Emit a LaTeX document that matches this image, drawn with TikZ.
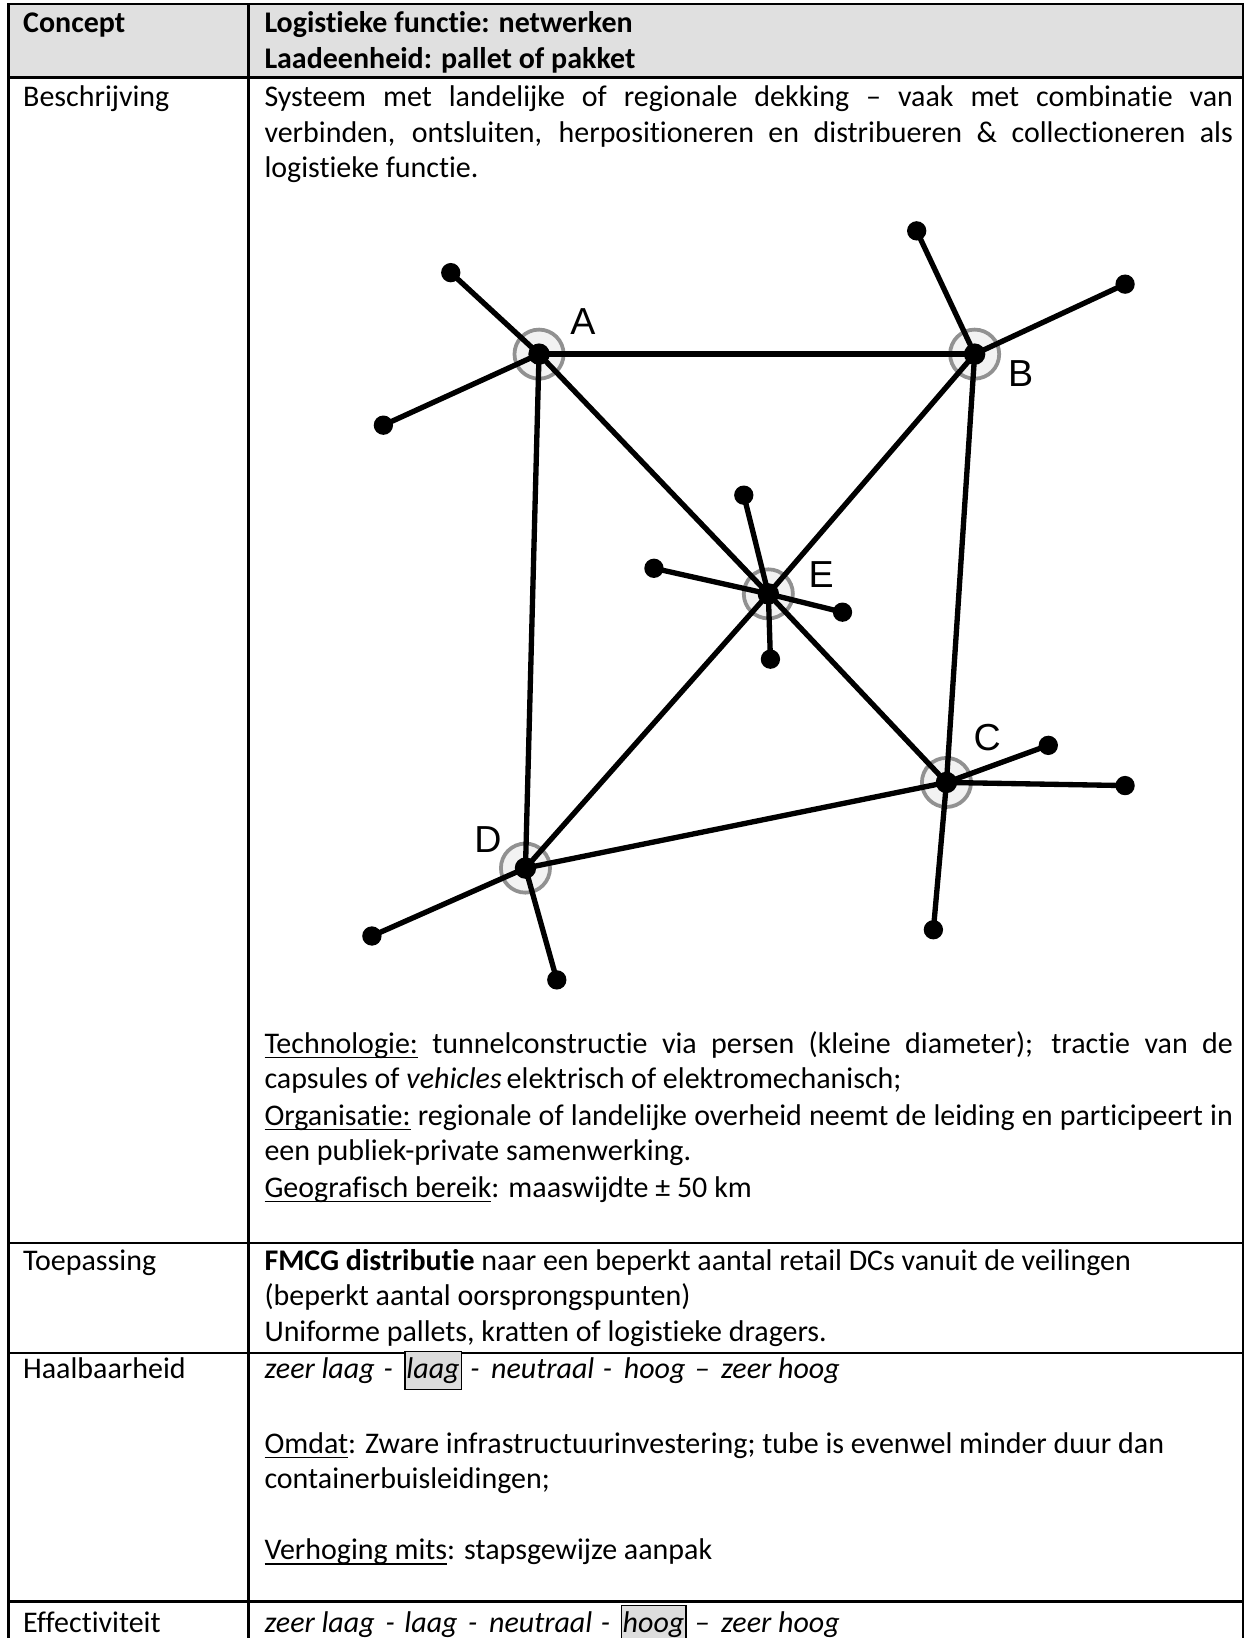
\documentclass[tikz,border=0pt]{standalone}
\usepackage{fontspec}
\setmainfont[Ligatures=NoCommon]{Carlito}
\newfontfamily\labelfont{Liberation Sans}

\definecolor{headgray}{HTML}{E0E0E0}
\definecolor{hlgray}{HTML}{DDDDDD}
\definecolor{ringgray}{HTML}{919191}
\definecolor{ringfill}{HTML}{F2F2F2}

% a justified line of the right-hand column
\newcommand\fullline[1]{\makebox[927pt][s]{#1}}
% underline at a fixed depth below the baseline
\newsavebox\ulbox
\newcommand\uln[1]{\sbox\ulbox{#1}\rlap{\rule[-5pt]{\wd\ulbox}{1.6pt}}\usebox\ulbox}

\tikzset{
  tline/.style={line width=2.4pt, line cap=rect},
  body/.style={font=\fontsize{28.7}{34.3}\selectfont, inner sep=0pt, anchor=base west},
  ital/.style={font=\fontsize{28.7}{34.3}\selectfont\itshape},
  hl/.style={draw=black, line width=1.2pt, fill=hlgray, inner xsep=1.5pt, inner ysep=0pt,
             text height=26pt, text depth=10pt},
  hub/.style={circle, fill=black, inner sep=0pt, minimum size=20.5pt},
  leaf/.style={circle, fill=black, inner sep=0pt, minimum size=18.5pt},
  halo/.style={circle, draw=ringgray, fill=ringfill, line width=3.6pt, inner sep=0pt, minimum size=47pt},
  link/.style={line width=5.1pt},
  hublabel/.style={font=\labelfont\fontsize{36}{36}\selectfont, inner sep=0pt},
}

\begin{document}
\begin{tikzpicture}[x=1pt,y=-1pt]
\useasboundingbox (0,0) rectangle (1192,1568);
\clip (0,0) rectangle (1192,1568);

% ---------- table frame ----------
\fill[headgray] (8,4) rectangle (1190,74);
\draw[tline] (8,4) -- (1190,4);
\draw[tline] (8,74) -- (1190,74);
\draw[tline] (8,1190) -- (1190,1190);
\draw[tline] (8,1295) -- (1190,1295);
\draw[tline] (8,1533) -- (1190,1533);
\draw[tline] (8,4) -- (8,1600);
\draw[tline] (238,4) -- (238,1600);
\draw[tline] (1190,4) -- (1190,1600);

% ---------- header ----------
\node[body] (concept) at (22,31) {\bfseries Concept};
\node[body] (hdr1) at (253,31) {\bfseries Logistieke functie: netwerken};
\node[body] (hdr2) at (253,66) {\bfseries Laadeenheid: pallet of pakket};

% ---------- Beschrijving ----------
\node[body] (besch) at (22,102) {Beschrijving};
\node[body] (d1) at (253,102) {\fullline{Systeem met landelijke of regionale dekking -- vaak met combinatie van}};
\node[body] (d2) at (253,136) {\fullline{verbinden, ontsluiten, herpositioneren en distribueren \& collectioneren als}};
\node[body] (d3) at (253,170) {logistieke functie.};

% ---------- network ----------
\node[halo] (ringA) at (516,339) {};
\node[halo] (ringB) at (933,339) {};
\node[halo] (ringE) at (735.5,568.5) {};
\node[halo] (ringC) at (906,749) {};
\node[halo] (ringD) at (503,831) {};

\node[hub] (A) at (516,339) {};
\node[hub] (B) at (933,339) {};
\node[hub] (E) at (735.5,568.5) {};
\node[hub] (C) at (906,749) {};
\node[hub] (D) at (503,831) {};

\node[leaf] (a1) at (431.5,261) {};
\node[leaf] (a2) at (367,407) {};
\node[leaf] (b1) at (877.5,221) {};
\node[leaf] (b2) at (1077,272) {};
\node[leaf] (e1) at (712,474) {};
\node[leaf] (e2) at (626,544) {};
\node[leaf] (e3) at (806.5,586) {};
\node[leaf] (e4) at (737.5,631) {};
\node[leaf] (c1) at (1003.5,713.5) {};
\node[leaf] (c2) at (1077,752) {};
\node[leaf] (c3) at (893.5,890) {};
\node[leaf] (dl1) at (356,896) {};
\node[leaf] (dl2) at (533,938) {};

\draw[link] (A.center) -- (B.center);
\draw[link] (A.center) -- (D.center);
\draw[link] (B.center) -- (C.center);
\draw[link] (D.center) -- (C.center);
\draw[link] (A.center) -- (E.center);
\draw[link] (E.center) -- (C.center);
\draw[link] (B.center) -- (E.center);
\draw[link] (E.center) -- (D.center);

\draw[link] (A.center) -- (a1.center);
\draw[link] (A.center) -- (a2.center);
\draw[link] (B.center) -- (b1.center);
\draw[link] (B.center) -- (b2.center);
\draw[link] (E.center) -- (e1.center);
\draw[link] (E.center) -- (e2.center);
\draw[link] (E.center) -- (e3.center);
\draw[link] (E.center) -- (e4.center);
\draw[link] (C.center) -- (c1.center);
\draw[link] (C.center) -- (c2.center);
\draw[link] (C.center) -- (c3.center);
\draw[link] (D.center) -- (dl1.center);
\draw[link] (D.center) -- (dl2.center);

\node[hublabel] (labA) at (558,308) {A};
\node[hublabel] (labB) at (977,358) {B};
\node[hublabel] (labE) at (786,550) {E};
\node[hublabel] (labC) at (945,706) {C};
\node[hublabel] (labD) at (467,804) {D};

% ---------- technology / organisation ----------
\node[body] (t1) at (253,1008) {\fullline{\uln{Technologie:} tunnelconstructie via persen (kleine diameter); tractie van de}};
\node[body] (t2) at (253,1042) {capsules of \textit{vehicles}\,elektrisch of elektromechanisch;};
\node[body] (t3) at (253,1077) {\fullline{\uln{Organisatie:} regionale of landelijke overheid neemt de leiding en participeert in}};
\node[body] (t4) at (253,1111) {een publiek-private samenwerking.};
\node[body] (t5) at (253,1146) {\uln{Geografisch bereik}: maaswijdte ± 50 km};

% ---------- Toepassing ----------
\node[body] (toep) at (22,1216) {Toepassing};
\node[body] (p1) at (253,1216) {\textbf{FMCG distributie} naar een beperkt aantal retail DCs vanuit de veilingen};
\node[body] (p2) at (253,1250) {(beperkt aantal oorsprongspunten)};
\node[body] (p3) at (253,1284) {Uniforme pallets, kratten of logistieke dragers.};

% ---------- Haalbaarheid ----------
\node[body] (haal) at (22,1320) {Haalbaarheid};
\node[body,ital] (h1) at (253,1320) {zeer laag};
\node[body,ital] (h2) at (367,1320) {-};
\node[body,ital,hl] (h3) at (387,1320) {laag};
\node[body,ital] (h4) at (450,1320) {-};
\node[body,ital] (h5) at (470,1320) {neutraal};
\node[body,ital] (h6) at (577,1320) {-};
\node[body,ital] (h7) at (597,1320) {hoog};
\node[body,ital] (h8) at (665,1320) {--};
\node[body,ital] (h9) at (690,1320) {zeer hoog};

\node[body] (o1) at (253,1391) {\uln{Omdat}: Zware infrastructuurinvestering; tube is evenwel minder duur dan};
\node[body] (o2) at (253,1425) {containerbuisleidingen;};
\node[body] (o3) at (253,1493) {\uln{Verhoging mits}: stapsgewijze aanpak};

% ---------- Effectiviteit ----------
\node[body] (eff) at (22,1563) {Effectiviteit};
\node[body,ital] (k1) at (253,1563) {zeer laag};
\node[body,ital] (k2) at (369,1563) {-};
\node[body,ital] (k3) at (387,1563) {laag};
\node[body,ital] (k4) at (448,1563) {-};
\node[body,ital] (k5) at (468,1563) {neutraal};
\node[body,ital] (k6) at (575,1563) {-};
\node[body,ital,hl] (k7) at (594,1563) {hoog};
\node[body,ital] (k8) at (665,1563) {--};
\node[body,ital] (k9) at (690,1563) {zeer hoog};
\end{tikzpicture}
\end{document}
